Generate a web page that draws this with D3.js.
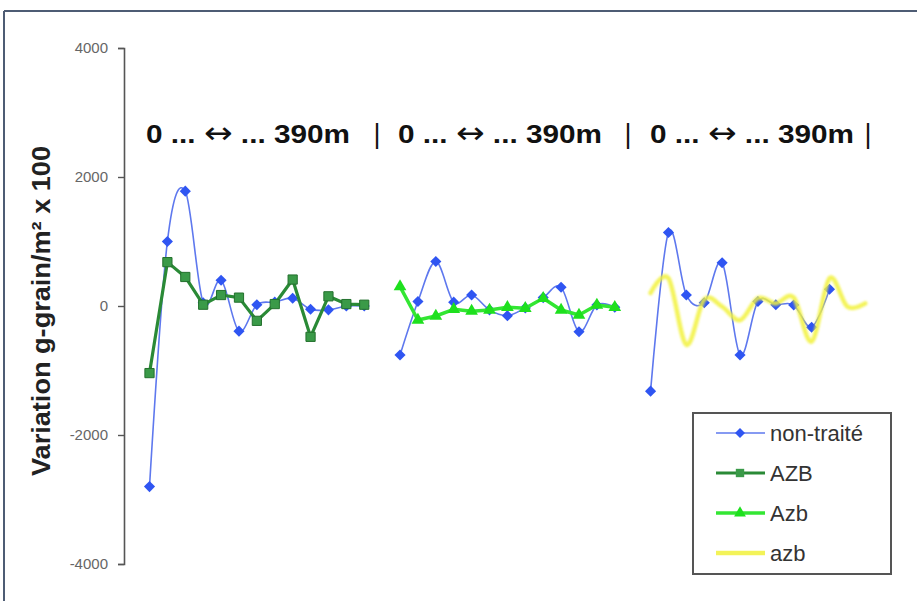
<!DOCTYPE html>
<html><head><meta charset="utf-8">
<script src="https://cdn.jsdelivr.net/npm/d3@7/dist/d3.min.js"></script>
<style>html,body{margin:0;padding:0;background:#fff;}svg{display:block;}</style>
</head><body>
<svg id="chart" width="917" height="601"></svg>
<script>
// ---- data (x = position index along the three 0…390 m transects, gaps between groups) ----
const xIndex = d3.range(41);
const nonTraite = [-2800, 1000, 1780, 50, 400, -390, 20, 60, 120, -50, -60, 0, 0,
  null,
  -760, 70, 690, 60, 170, -60, -150, -30, 130, 290, -400, 15, -20,
  null,
  -1320, 1140, 170, 50, 670, -760, 70, 20, 15, -330, 260, null, null];
const AZB = [-1040, 680, 450, 20, 170, 130, -230, 30, 410, -478, 150, 30, 20,
  null, null, null, null, null, null, null, null, null, null, null, null, null, null,
  null, null, null, null, null, null, null, null, null, null, null, null, null, null];
const Azb = [null, null, null, null, null, null, null, null, null, null, null, null, null,
  null,
  300, -217, -155, -52, -80, -62, -20, -36, 120, -62, -140, 15, -20,
  null, null, null, null, null, null, null, null, null, null, null, null, null, null];
const azb = [null, null, null, null, null, null, null, null, null, null, null, null, null,
  null, null, null, null, null, null, null, null, null, null, null, null, null, null,
  null,
  200, 430, -600, 100, -10, -220, 120, 40, 130, -550, 430, -10, 40];
const yTicks = [-4000, -2000, 0, 2000, 4000];
const headerParts = ["0 ... ", "\u2194", " ... 390m"];
const seriesNames = ["non-traité", "AZB", "Azb", "azb"];
const yTitle = "Variation g-grain/m\u00B2 x 100";

// ---- layout ----
const svg = d3.select("#chart");
const x = d3.scaleLinear().domain([0, 40]).range([149.5, 865.3]);
const y = d3.scaleLinear().domain([-4000, 4000]).range([564, 48]);

const defs = svg.append("defs");
defs.append("filter").attr("id", "soft").attr("x", "-5%").attr("y", "-20%").attr("width", "110%").attr("height", "140%")
  .append("feGaussianBlur").attr("stdDeviation", 0.9);

// frame
svg.append("line").attr("x1", 4).attr("x2", 917).attr("y1", 11).attr("y2", 11)
  .attr("stroke", "#4e5c74").attr("stroke-width", 2);
svg.append("line").attr("x1", 4).attr("x2", 4).attr("y1", 11).attr("y2", 601)
  .attr("stroke", "#4e5c74").attr("stroke-width", 2);

// y axis
const yAxis = d3.axisLeft(y).tickValues(yTicks).tickSize(6).tickPadding(10).tickFormat(d => String(d));
const gy = svg.append("g").attr("transform", "translate(124,0)").call(yAxis);
gy.select(".domain").attr("stroke", "#555").attr("stroke-width", 1.6);
gy.selectAll(".tick line").attr("stroke", "#555").attr("stroke-width", 1.4);
gy.selectAll(".tick text").attr("font-family", "Liberation Sans, Arial, sans-serif")
  .attr("font-size", 15).attr("fill", "#666");

// y title
svg.append("text").attr("transform", "translate(50,311) rotate(-90)")
  .attr("text-anchor", "middle").attr("font-family", "Liberation Sans, Arial, sans-serif")
  .attr("font-weight", "bold").attr("font-size", 25).attr("fill", "#222")
  .attr("textLength", 330).attr("lengthAdjust", "spacingAndGlyphs").text(yTitle);

// header
const segX = [146, 398, 650];
const pipeX = [377, 628, 868];
segX.forEach((sx, i) => {
  const t = svg.append("text").attr("x", sx).attr("y", 143)
    .attr("font-family", "Liberation Sans, Arial, sans-serif").attr("font-weight", "bold")
    .attr("font-size", 26).attr("fill", "#111")
    .attr("textLength", 204).attr("lengthAdjust", "spacingAndGlyphs");
  t.append("tspan").text(headerParts[0]);
  t.append("tspan").attr("font-family", "DejaVu Sans, sans-serif").attr("font-weight", "normal")
    .attr("font-size", 30).text(headerParts[1]);
  t.append("tspan").text(headerParts[2]);
  svg.append("text").attr("x", pipeX[i]).attr("y", 143).attr("text-anchor", "middle")
    .attr("font-family", "Liberation Sans, Arial, sans-serif")
    .attr("font-size", 27).attr("fill", "#111").text("|");
});

// series helpers
const pts = arr => xIndex.map(i => ({i, v: arr[i]}));
const lineGen = curve => d3.line().defined(d => d.v != null).x(d => x(d.i)).y(d => y(d.v)).curve(curve);
const diamond = d3.symbol(d3.symbolSquare, 62);

// non-traité (smoothed)
svg.append("path").datum(pts(nonTraite)).attr("d", lineGen(d3.curveCardinal.tension(0)))
  .attr("fill", "none").attr("stroke", "#5e78ee").attr("stroke-width", 1.6);
svg.append("g").selectAll("path").data(pts(nonTraite).filter(d => d.v != null)).join("path")
  .attr("transform", d => `translate(${x(d.i)},${y(d.v)}) rotate(45)`)
  .attr("d", diamond).attr("fill", "#2f55f2");

// AZB
svg.append("path").datum(pts(AZB)).attr("d", lineGen(d3.curveLinear))
  .attr("fill", "none").attr("stroke", "#2a8a36").attr("stroke-width", 3.2).attr("stroke-linejoin", "round");
svg.append("g").selectAll("path").data(pts(AZB).filter(d => d.v != null)).join("path")
  .attr("transform", d => `translate(${x(d.i)},${y(d.v)})`)
  .attr("d", d3.symbol(d3.symbolSquare, 85)).attr("fill", "#3a9a48").attr("stroke", "#23702d").attr("stroke-width", 1);

// Azb
svg.append("path").datum(pts(Azb)).attr("d", lineGen(d3.curveLinear))
  .attr("fill", "none").attr("stroke", "#33e633").attr("stroke-width", 3.5).attr("stroke-linejoin", "round");
svg.append("g").selectAll("path").data(pts(Azb).filter(d => d.v != null)).join("path")
  .attr("transform", d => `translate(${x(d.i)},${y(d.v)})`)
  .attr("d", d3.symbol(d3.symbolTriangle, 70)).attr("fill", "#1ee01e");

// azb (smoothed, no markers)
svg.append("path").datum(pts(azb)).attr("d", lineGen(d3.curveCardinal.tension(0)))
  .attr("fill", "none").attr("stroke", "#f2f23c").attr("stroke-width", 4.5).attr("stroke-linecap", "round")
  .attr("opacity", 0.85).attr("filter", "url(#soft)");

// legend
const lg = svg.append("g");
lg.append("rect").attr("x", 693).attr("y", 413).attr("width", 198).attr("height", 161)
  .attr("fill", "#fff").attr("stroke", "#555").attr("stroke-width", 2);
const legendRows = [
  {name: seriesNames[0], color: "#5e78ee", w: 1.6, sym: d3.symbolSquare, size: 50, rot: 45, fill: "#2f55f2"},
  {name: seriesNames[1], color: "#2a8a36", w: 3.2, sym: d3.symbolSquare, size: 70, rot: 0, fill: "#3a9a48"},
  {name: seriesNames[2], color: "#33e633", w: 3.5, sym: d3.symbolTriangle, size: 60, rot: 0, fill: "#1ee01e"},
  {name: seriesNames[3], color: "#f2f23c", w: 4.5, sym: null}
];
legendRows.forEach((r, k) => {
  const yy = 433 + k * 40;
  lg.append("line").attr("x1", 716).attr("x2", 765).attr("y1", yy).attr("y2", yy)
    .attr("stroke", r.color).attr("stroke-width", r.w).attr("opacity", r.sym ? 1 : 0.85);
  if (r.sym) lg.append("path").attr("transform", `translate(740,${yy}) rotate(${r.rot})`)
    .attr("d", d3.symbol(r.sym, r.size)).attr("fill", r.fill);
  lg.append("text").attr("x", 770).attr("y", yy + 8).attr("font-family", "Liberation Sans, Arial, sans-serif")
    .attr("font-size", 22).attr("fill", "#333").text(r.name);
});
</script>
</body></html>
